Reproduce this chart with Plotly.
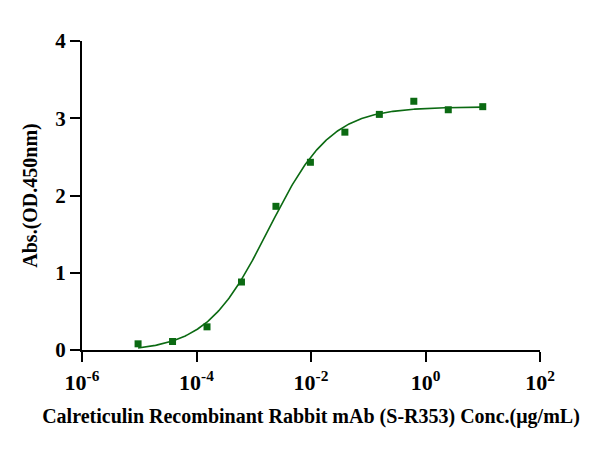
import numpy as np
import plotly.graph_objects as go

# Data: 4-fold serial dilution starting at 10 µg/mL
conc = [10, 2.5, 0.625, 0.15625, 0.0390625, 0.009765625, 0.00244140625,
        0.0006103515625, 0.000152587890625, 3.814697265625e-05, 9.5367431640625e-06]
absorb = [3.15, 3.11, 3.22, 3.05, 2.82, 2.43, 1.86, 0.88, 0.30, 0.11, 0.08]

x_tickvals = [1e-6, 1e-4, 1e-2, 1e0, 1e2]
x_ticktext = ["<b>10<sup>-6</sup></b>", "<b>10<sup>-4</sup></b>", "<b>10<sup>-2</sup></b>",
              "<b>10<sup>0</sup></b>", "<b>10<sup>2</sup></b>"]
y_tickvals = [0, 1, 2, 3, 4]
y_ticktext = ["<b>0</b>", "<b>1</b>", "<b>2</b>", "<b>3</b>", "<b>4</b>"]

# 4-parameter logistic fit (grid search over hill / logEC50, linear LSQ for bottom/top)
lx = np.log10(np.array(conc))
yy = np.array(absorb)
best = None
for hill in np.linspace(0.3, 2.5, 221):
    for lec in np.linspace(-5, 0, 501):
        s = 1.0 / (1.0 + 10 ** ((lec - lx) * hill))
        A = np.vstack([1 - s, s]).T
        coef, *_ = np.linalg.lstsq(A, yy, rcond=None)
        r = np.sum((A @ coef - yy) ** 2)
        if best is None or r < best[0]:
            best = (r, hill, lec, coef)
_, hill, lec, (bottom, top) = best
fx = np.linspace(lx.min(), lx.max(), 300)
fy = bottom + (top - bottom) / (1.0 + 10 ** ((lec - fx) * hill))

green = "#0b6a12"
FAM = "Liberation Serif"

fig = go.Figure()
fig.add_trace(go.Scatter(x=10 ** fx, y=fy, mode="lines",
                         line=dict(color=green, width=1.6), hoverinfo="skip"))
fig.add_trace(go.Scatter(x=conc, y=absorb, mode="markers",
                         marker=dict(symbol="square", size=7, color=green)))

fig.update_layout(
    width=605, height=451,
    margin=dict(l=74, r=73, t=33, b=109),
    paper_bgcolor="white", plot_bgcolor="white",
    showlegend=False,
    font=dict(family=FAM, size=18, color="black"),
)
fig.update_xaxes(
    type="log", range=[-6, 2], automargin=False,
    tickvals=x_tickvals, ticktext=x_ticktext,
    showline=True, linecolor="black", linewidth=2,
    ticks="outside", ticklen=10, tickwidth=2, tickcolor="black",
    ticklabelstandoff=2,
    showgrid=False, zeroline=False,
    tickfont=dict(family=FAM, size=22, color="black"),
    title=dict(text="<b>Calreticulin Recombinant Rabbit mAb (S-R353) Conc.(μg/mL)</b>",
               font=dict(family=FAM, size=20, color="black"), standoff=15),
)
fig.update_yaxes(
    range=[0, 4], automargin=False,
    tickvals=y_tickvals, ticktext=y_ticktext,
    showline=True, linecolor="black", linewidth=2,
    ticks="outside", ticklen=10, tickwidth=2, tickcolor="black",
    showgrid=False, zeroline=False,
    tickfont=dict(family=FAM, size=21, color="black"),
    title=dict(text="<b>Abs.(OD.450nm)</b>",
               font=dict(family=FAM, size=20, color="black"), standoff=12),
)

fig.write_html("out.html")
